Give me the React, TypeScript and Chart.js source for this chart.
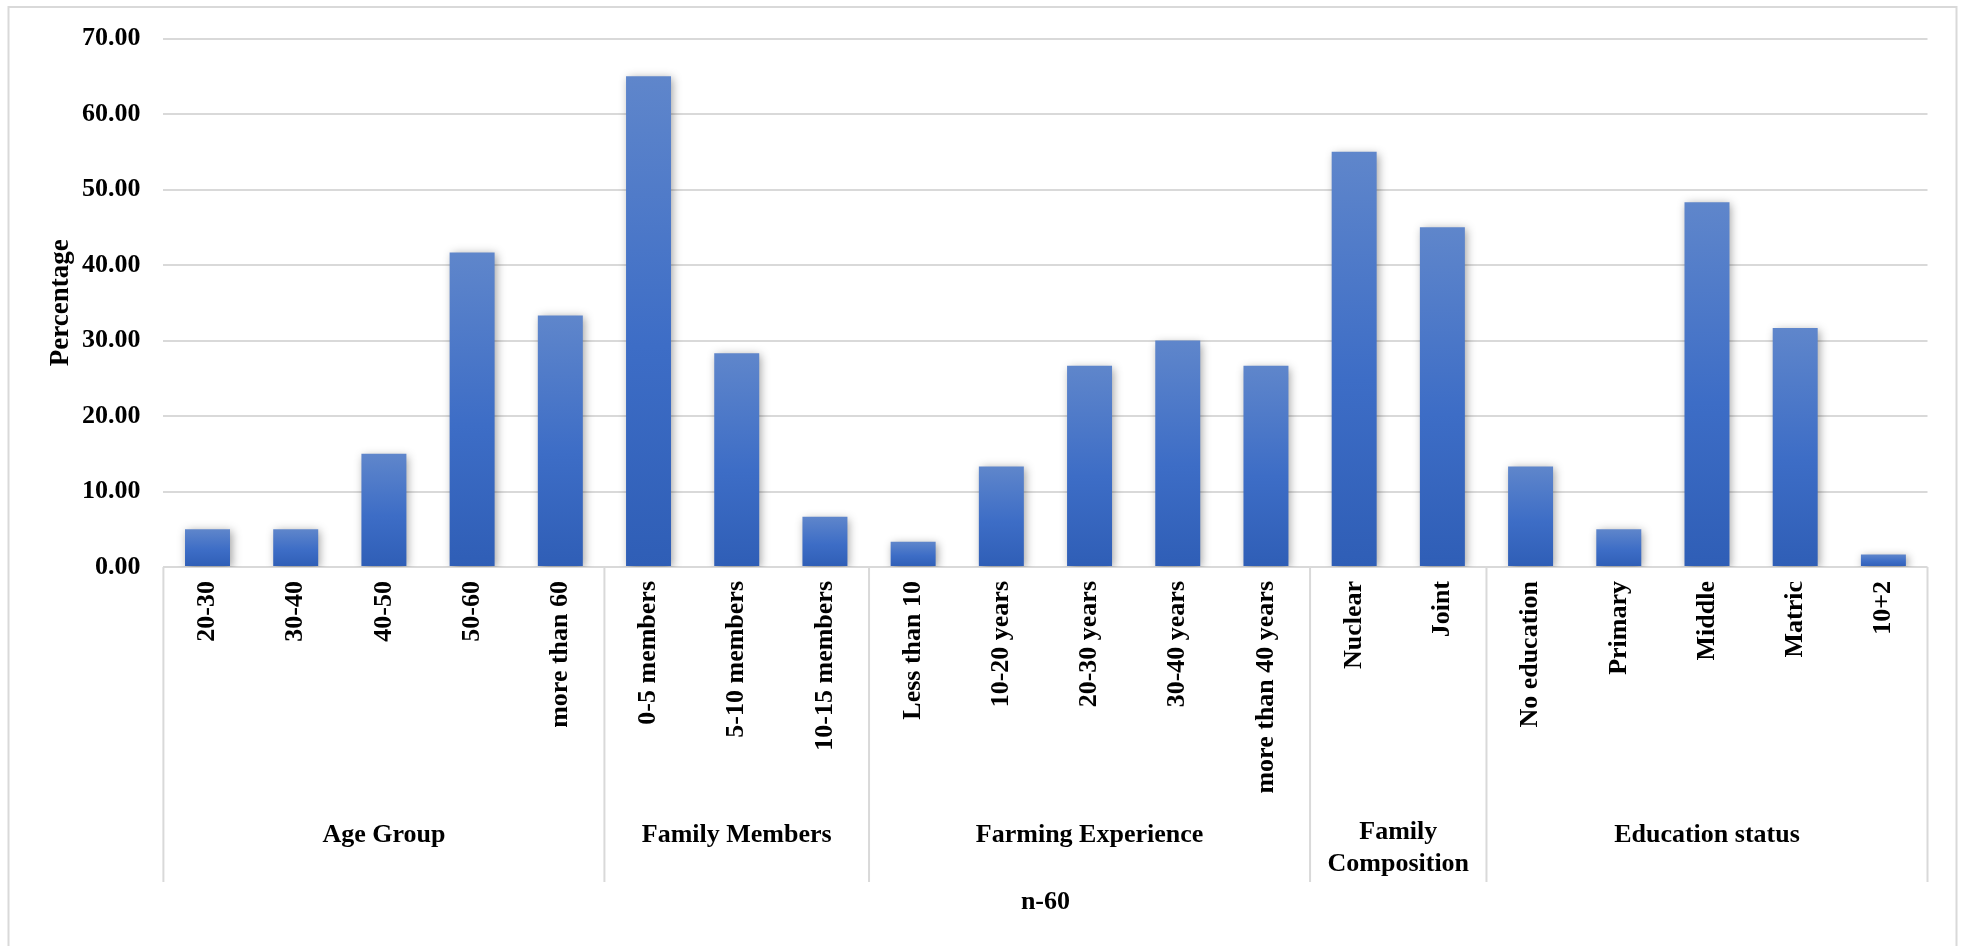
import { useEffect, useRef } from "react";
import { Chart, registerables } from "chart.js";

Chart.register(...registerables);

// Respondent profile (n = 60), percentage of farmers in each class
const categories = [
  "20-30",
  "30-40",
  "40-50",
  "50-60",
  "more than 60",
  "0-5 members",
  "5-10 members",
  "10-15 members",
  "Less than 10",
  "10-20 years",
  "20-30 years",
  "30-40 years",
  "more than 40 years",
  "Nuclear",
  "Joint",
  "No education",
  "Primary",
  "Middle",
  "Matric",
  "10+2",
];

const percentages = [
  5.0, 5.0, 15.0, 41.67, 33.33,
  65.0, 28.33, 6.67,
  3.33, 13.33, 26.67, 30.0, 26.67,
  55.0, 45.0,
  13.33, 5.0, 48.33, 31.67, 1.67,
];

// Outer category level: label lines and how many classes each one spans
const groupLabels = [
  ["Age Group"],
  ["Family Members"],
  ["Farming Experience"],
  ["Family", "Composition"],
  ["Education status"],
];
const groupSizes = [5, 3, 5, 2, 5];

const yMin = 0;
const yMax = 70;
const yStep = 10;

const xTitle = "n-60";
const yTitle = "Percentage";

const FONT = "'Liberation Serif', 'Times New Roman', serif";
const GRID = "#d9d9d9";

// Light border round the whole chart
const frame = {
  id: "frame",
  beforeDraw(chart: any) {
    const { ctx } = chart;
    ctx.save();
    ctx.strokeStyle = GRID;
    ctx.lineWidth = 2;
    ctx.strokeRect(8.5, 7, chart.width - 18, chart.height + 20);
    ctx.restore();
  },
};

// Soft drop shadow under the bars
const barShadow = {
  id: "barShadow",
  beforeDatasetDraw(chart: any) {
    const { ctx } = chart;
    ctx.save();
    ctx.shadowColor = "rgba(0,0,0,0.38)";
    ctx.shadowBlur = 9;
    ctx.shadowOffsetX = 2;
    ctx.shadowOffsetY = 2;
  },
  afterDatasetDraw(chart: any) {
    chart.ctx.restore();
  },
};

// Second level of the category axis: group names with separators
const groupAxis = {
  id: "groupAxis",
  afterDraw(chart: any) {
    const { ctx, chartArea } = chart;
    const xs = chart.scales.x;
    const half = (xs.getPixelForValue(1) - xs.getPixelForValue(0)) / 2;
    const top = chartArea.bottom;
    const lineBottom = top + 315;
    const labelY = top + 268;

    ctx.save();
    ctx.strokeStyle = GRID;
    ctx.lineWidth = 2;
    ctx.fillStyle = "#000";
    ctx.font = `bold 26px ${FONT}`;
    ctx.textAlign = "center";
    ctx.textBaseline = "middle";

    let start = 0;
    const edges: number[] = [];
    groupSizes.forEach((size, gi) => {
      const left = xs.getPixelForValue(start) - half;
      const right = xs.getPixelForValue(start + size - 1) + half;
      if (gi === 0) edges.push(left);
      edges.push(right);
      const lines = groupLabels[gi];
      const cx = (left + right) / 2;
      lines.forEach((line, li) => {
        const y = lines.length > 1 ? labelY - 3 + li * 32 : labelY;
        ctx.fillText(line, cx, y);
      });
      start += size;
    });

    edges.forEach((ex) => {
      ctx.beginPath();
      ctx.moveTo(ex, top);
      ctx.lineTo(ex, lineBottom);
      ctx.stroke();
    });
    ctx.restore();
  },
};

function barGradient(context: any) {
  const chart = context.chart;
  const ys = chart.scales?.y;
  if (!ys || !chart.chartArea || context.parsed == null) return "#4472c4";
  const yTop = ys.getPixelForValue(context.parsed.y);
  const yBase = ys.getPixelForValue(0);
  if (!isFinite(yTop) || !isFinite(yBase) || yTop === yBase) return "#4472c4";
  const g = chart.ctx.createLinearGradient(0, yTop, 0, yBase);
  g.addColorStop(0, "#5f86cb");
  g.addColorStop(0.55, "#3d6dc6");
  g.addColorStop(1, "#2f5eb6");
  return g;
}

export default function App() {
  const canvasRef = useRef<HTMLCanvasElement | null>(null);

  useEffect(() => {
    const canvas = canvasRef.current;
    if (!canvas) return;
    const chart = new Chart(canvas, {
      type: "bar",
      data: {
        labels: categories,
        datasets: [
          {
            label: yTitle,
            data: percentages,
            backgroundColor: barGradient,
            borderWidth: 0,
            barPercentage: 0.51,
            categoryPercentage: 1,
          },
        ],
      },
      options: {
        responsive: false,
        animation: false,
        devicePixelRatio: 1,
        layout: { padding: { top: 36, right: 38.5, bottom: 0, left: 0 } },
        plugins: {
          legend: { display: false },
          tooltip: { enabled: false },
        },
        scales: {
          x: {
            grid: { display: false, drawTicks: false },
            border: { display: false },
            ticks: {
              autoSkip: false,
              minRotation: 90,
              maxRotation: 90,
              padding: 14,
              color: "#000",
              font: { family: FONT, size: 26, weight: "bold" },
            },
            title: {
              display: true,
              text: xTitle,
              color: "#000",
              font: { family: FONT, size: 26, weight: "bold" },
              padding: { top: 0, bottom: 28 },
            },
            afterFit(scale: any) {
              scale.height = 379;
            },
          },
          y: {
            min: yMin,
            max: yMax,
            grid: { color: GRID, lineWidth: 2, drawTicks: false },
            border: { display: false },
            ticks: {
              stepSize: yStep,
              padding: 23,
              color: "#000",
              font: { family: FONT, size: 26, weight: "bold" },
              callback: (v: any) => Number(v).toFixed(2),
            },
            title: {
              display: true,
              text: yTitle,
              color: "#000",
              font: { family: FONT, size: 27, weight: "bold" },
              padding: { top: 45, bottom: 0 },
            },
            afterFit(scale: any) {
              scale.width = 163.4;
            },
          },
        },
      },
      plugins: [frame, barShadow, groupAxis],
    });
    return () => chart.destroy();
  }, []);

  return (
    <div style={{ position: "fixed", left: 0, top: 0, width: 1966, height: 946, background: "#fff" }}>
      <canvas ref={canvasRef} width={1966} height={946} />
    </div>
  );
}
